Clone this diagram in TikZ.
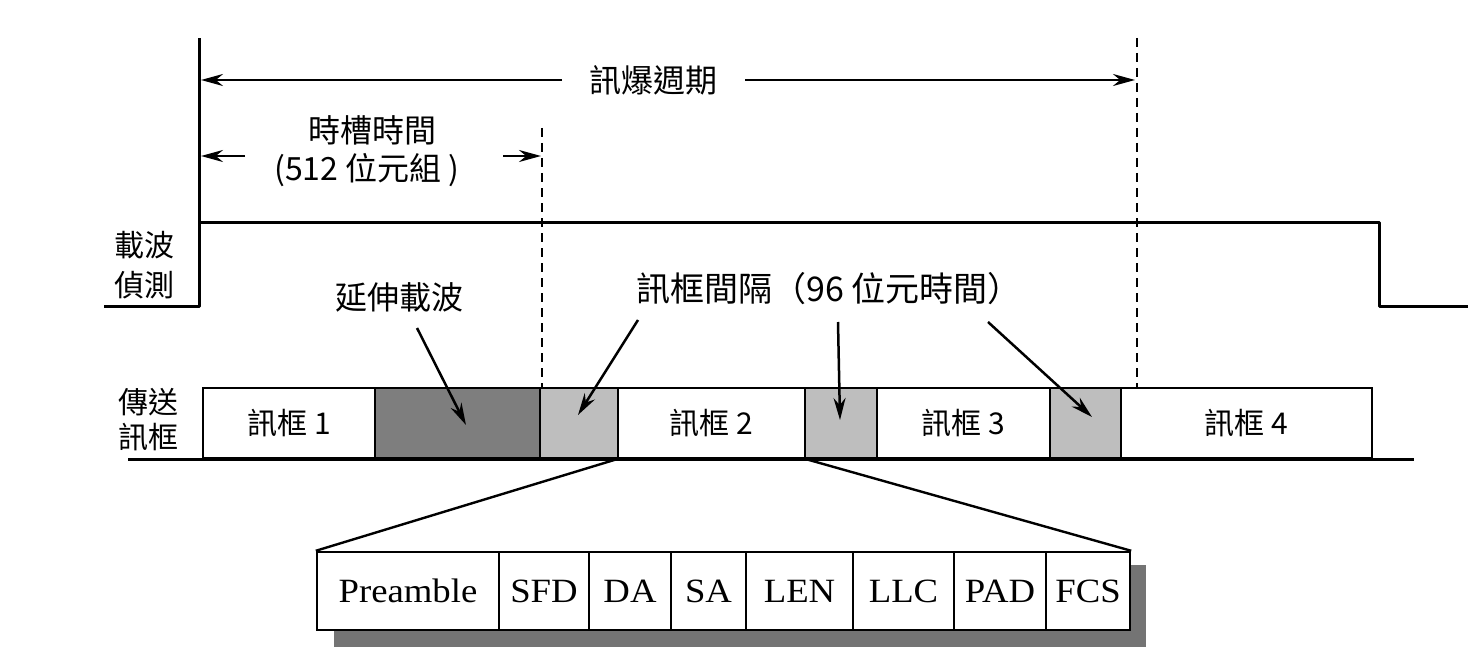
\documentclass[tikz,border=0pt]{standalone}
\usepackage{fontspec}
\usetikzlibrary{arrows.meta}
\newfontfamily\cjk{Noto Sans CJK TC}
\newfontfamily\latf[FakeStretch=1.08]{Liberation Serif}
\definecolor{darkfill}{HTML}{7E7E7E}
\definecolor{lightfill}{HTML}{BEBEBE}
\definecolor{shadowc}{HTML}{747474}
\tikzset{
  lbl/.style={font=\cjk\fontsize{30}{36}\selectfont, inner sep=0pt},
  biglbl/.style={font=\cjk\fontsize{32}{38}\selectfont, inner sep=0pt},
  fr/.style={draw, line width=2.4pt, minimum height=70pt, inner sep=0pt, font=\cjk\fontsize{30}{36}\selectfont},
  fld/.style={draw, line width=2.4pt, fill=white, minimum height=78pt, inner sep=0pt, font=\latf\fontsize{34}{40}\selectfont},
  thick line/.style={line width=3pt},
  dashline/.style={line width=2.4pt, dash pattern=on 9pt off 6pt},
  arr/.style={line width=2.5pt, -{Stealth[length=22pt,width=12pt]}},
}
\begin{document}
\begin{tikzpicture}[x=1pt,y=-1pt]
\useasboundingbox (0,0) rectangle (1481,666);
% coordinates
\coordinate (csL) at (104,306);
\coordinate (csLc) at (199,306);
\coordinate (vtop) at (199,38);
\coordinate (csH1) at (199,222);
\coordinate (csH2) at (1379,222);
\coordinate (csD) at (1379,306);
\coordinate (csR) at (1468,306);
\coordinate (bL) at (201,80);
\coordinate (bLt) at (562,80);
\coordinate (bRt) at (745,80);
\coordinate (bR) at (1135,80);
\coordinate (d2top) at (1137,38);
\coordinate (d2bot) at (1137,388);
\coordinate (d1top) at (542,128);
\coordinate (d1bot) at (542,388);
\coordinate (sL) at (201,156);
\coordinate (sLt) at (245,156);
\coordinate (sRt) at (503,156);
\coordinate (sR) at (541,156);
\coordinate (baseL) at (128,459);
\coordinate (baseR) at (1414,459);
% carrier sense
\draw[thick line, line join=round] (csL) -- (csLc) -- (vtop);
\draw[thick line, line join=round] (csH1) -- (csH2) -- (csD) -- (csR);
\node[lbl] (cs1) at (144,245) {載波};
\node[lbl] (cs2) at (144,285) {偵測};
% burst period
\node[biglbl] (burst) at (653,80) {訊爆週期};
\draw[arr] (bLt) -- (bL);
\draw[arr] (bRt) -- (bR);
\draw[dashline] (d2top) -- (d2bot);
% slot time
\draw[dashline] (d1top) -- (d1bot);
\node[biglbl] (slot1) at (372,130) {時槽時間};
\node[biglbl] (slot2) at (367,170) {(512 位元組 )};
\draw[arr] (sLt) -- (sL);
\draw[arr] (sRt) -- (sR);
% transmit frames
\node[lbl] (tx1) at (148,402) {傳送};
\node[lbl] (tx2) at (148,437) {訊框};
\node[fr, minimum width=172pt] (f1) at (289,423) {訊框 1};
\node[fr, minimum width=165pt, fill=darkfill] (ext) at (457.5,423) {};
\node[fr, minimum width=78pt, fill=lightfill] (g1) at (579,423) {};
\node[fr, minimum width=187pt] (f2) at (711.5,423) {訊框 2};
\node[fr, minimum width=72pt, fill=lightfill] (g2) at (841,423) {};
\node[fr, minimum width=173pt] (f3) at (963.5,423) {訊框 3};
\node[fr, minimum width=71pt, fill=lightfill] (g3) at (1085.5,423) {};
\node[fr, minimum width=251pt] (f4) at (1246.5,423) {訊框 4};
\draw[thick line] (baseL) -- (baseR);
% annotations
\node[biglbl] (extl) at (399,297) {延伸載波};
\node[biglbl, font=\cjk\fontsize{34}{40}\selectfont] (ifgl) at (829,289) {訊框間隔（96 位元時間）};
\draw[arr] (417,328) -- (466,425);
\draw[arr] (638,320) -- (578,415);
\draw[arr] (838,322) -- (840,420);
\draw[arr] (988,322) -- (1092,417);
% frame format
\fill[shadowc] (334,565) rectangle (1146,647);
\node[fld, minimum width=182pt] (pre) at (408,591) {Preamble};
\node[fld, minimum width=90pt] (sfd) at (544,591) {SFD};
\node[fld, minimum width=82pt] (da) at (630,591) {DA};
\node[fld, minimum width=75pt] (sa) at (708.5,591) {SA};
\node[fld, minimum width=107pt] (len) at (799.5,591) {LEN};
\node[fld, minimum width=101pt] (llc) at (903.5,591) {LLC};
\node[fld, minimum width=92pt] (pad) at (1000,591) {PAD};
\node[fld, minimum width=84pt] (fcs) at (1088,591) {FCS};
\draw[line width=2.4pt] (f2.south west) -- (pre.north west);
\draw[line width=2.4pt] (f2.south east) -- (fcs.north east);
\end{tikzpicture}
\end{document}
